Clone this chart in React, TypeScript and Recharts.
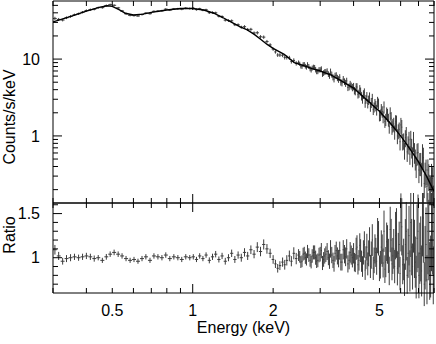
import { ComposedChart, Scatter, XAxis, YAxis, ErrorBar } from 'recharts'

// channel energies (keV)
const energy = [
  0.305, 0.315, 0.326, 0.337, 0.349, 0.361, 0.374, 0.387, 0.4, 0.414,
  0.428, 0.443, 0.459, 0.475, 0.491, 0.508, 0.526, 0.544, 0.563, 0.583,
  0.603, 0.624, 0.646, 0.668, 0.692, 0.716, 0.741, 0.767, 0.793, 0.821,
  0.85, 0.88, 0.91, 0.942, 0.975,
  1.005, 1.033, 1.062, 1.092, 1.122, 1.154, 1.186, 1.219, 1.253, 1.288,
  1.324, 1.361, 1.399, 1.438, 1.479, 1.52, 1.563, 1.606, 1.651, 1.697,
  1.745, 1.794, 1.844, 1.896, 1.949,
  2.0, 2.04, 2.08, 2.12, 2.17, 2.21, 2.25, 2.3, 2.34, 2.39,
  2.44, 2.49, 2.54, 2.59, 2.64, 2.69, 2.75, 2.8, 2.86, 2.91,
  2.97, 3.03, 3.09, 3.15, 3.22, 3.28, 3.35, 3.41, 3.48, 3.55,
  3.62, 3.7, 3.77, 3.85, 3.92,
  4.0, 4.06, 4.12, 4.19, 4.25, 4.32, 4.39, 4.45, 4.52, 4.59,
  4.66, 4.74, 4.81, 4.88, 4.96, 5.04, 5.12, 5.2, 5.28, 5.36,
  5.44, 5.53, 5.61, 5.7, 5.79, 5.88, 5.97, 6.06, 6.16, 6.25,
  6.35, 6.45, 6.55, 6.65, 6.76, 6.86, 6.97, 7.08, 7.19, 7.3,
  7.41, 7.53, 7.65, 7.77, 7.89,
]

const counts = [
  33.8, 32.8, 32.2, 34.5, 35.9, 37.7, 38.9, 40.8, 42.8, 43.9,
  44.6, 46.7, 46.7, 49.7, 51.1, 50.1, 46.4, 42.3, 38.9, 37.1,
  36.8, 36.4, 38.0, 39.6, 39.0, 41.8, 42.1, 42.5, 44.6, 43.5,
  44.9, 45.1, 44.6, 46.0, 45.5,
  45.9, 44.0, 45.2, 43.3, 43.9, 40.1, 40.4, 40.0, 36.1, 35.8,
  32.1, 31.7, 31.5, 28.0, 28.0, 26.0, 26.4, 24.3, 24.4, 21.9,
  22.0, 19.5, 19.3, 16.9, 15.3,
  13.5, 12.4, 11.3, 11.3, 11.2, 10.5, 10.5, 10.4, 9.3, 9.6,
  8.8, 9.0, 8.1, 8.5, 8.1, 8.5, 7.5, 7.65, 7.8, 6.9,
  7.26, 7.45, 6.6, 6.86, 6.4, 6.9, 5.8, 6.1, 5.7, 5.8,
  4.9, 5.1, 5.2, 4.37, 4.48,
  4.41, 3.79, 4.33, 3.57, 3.81, 3.02, 3.68, 3.02, 2.65, 3.23,
  2.71, 2.2, 2.63, 2.19, 2.64, 1.88, 2.08, 2.38, 1.64, 1.89,
  1.32, 1.7, 1.38, 1.13, 1.51, 1.16, 0.84, 1.3, 0.87, 0.95,
  0.62, 0.89, 0.91, 0.55, 0.62, 0.41, 0.61, 0.45, 0.33, 0.52,
  0.33, 0.22, 0.31, 0.21, 0.28,
]

const ratio = [
  1.09, 1.02, 0.96, 0.99, 1.0, 1.01, 1.0, 1.01, 1.02, 1.01,
  0.99, 1.0, 0.97, 1.01, 1.04, 1.06, 1.04, 1.02, 0.99, 0.97,
  0.98, 0.96, 0.99, 1.01, 0.97, 1.02, 1.01, 1.0, 1.03, 0.99,
  1.01, 1.0, 0.98, 1.01, 1.0,
  1.01, 0.98, 1.02, 0.99, 1.03, 0.97, 1.01, 1.04, 0.98, 1.02,
  0.96, 1.0, 1.05, 0.98, 1.03, 1.0, 1.06, 1.02, 1.09, 1.04,
  1.12, 1.07, 1.15, 1.1, 1.05,
  0.98, 0.93, 0.88, 0.91, 0.95, 0.92, 0.97, 1.02, 0.96, 1.05,
  0.99, 1.03, 0.95, 1.04, 1.0, 1.07, 0.97, 1.02, 1.06, 0.96,
  1.03, 1.08, 0.98, 1.04, 1.0, 1.1, 0.97, 1.05, 1.02, 1.08,
  0.95, 1.04, 1.1, 0.97, 1.03,
  1.05, 0.94, 1.12, 0.97, 1.08, 0.9, 1.15, 1.0, 0.93, 1.18,
  1.03, 0.88, 1.1, 0.96, 1.22, 0.92, 1.08, 1.3, 0.95, 1.15,
  0.85, 1.2, 1.02, 0.9, 1.28, 1.05, 0.82, 1.35, 0.98, 1.15,
  0.8, 1.25, 1.4, 0.9, 1.1, 0.78, 1.3, 1.05, 0.85, 1.45,
  1.0, 0.75, 1.2, 0.9, 1.35,
]

// fractional 1-sigma errors per channel
const relErr = [
  0.05, 0.045, 0.04, 0.04, 0.04, 0.035, 0.035, 0.035, 0.035, 0.035,
  0.035, 0.03, 0.03, 0.032, 0.03, 0.03, 0.03, 0.03, 0.03, 0.03,
  0.03, 0.03, 0.03, 0.03, 0.03, 0.03, 0.03, 0.03, 0.03, 0.03,
  0.03, 0.03, 0.03, 0.03, 0.03,
  0.03, 0.03, 0.03, 0.03, 0.03, 0.035, 0.035, 0.035, 0.035, 0.035,
  0.04, 0.04, 0.04, 0.04, 0.04, 0.045, 0.045, 0.045, 0.045, 0.045,
  0.05, 0.05, 0.05, 0.05, 0.05,
  0.05, 0.05, 0.055, 0.055, 0.055, 0.06, 0.06, 0.06, 0.06, 0.065,
  0.065, 0.065, 0.07, 0.07, 0.07, 0.07, 0.075, 0.075, 0.075, 0.08,
  0.08, 0.08, 0.085, 0.085, 0.085, 0.09, 0.09, 0.09, 0.095, 0.095,
  0.1, 0.1, 0.1, 0.105, 0.105,
  0.11, 0.11, 0.12, 0.12, 0.12, 0.13, 0.13, 0.13, 0.14, 0.14,
  0.15, 0.15, 0.15, 0.16, 0.16, 0.17, 0.17, 0.18, 0.18, 0.19,
  0.19, 0.2, 0.2, 0.21, 0.22, 0.22, 0.23, 0.24, 0.24, 0.25,
  0.26, 0.27, 0.28, 0.29, 0.3, 0.31, 0.32, 0.33, 0.34, 0.35,
  0.36, 0.37, 0.38, 0.39, 0.4,
]

// the hard band is binned finer: extra channels sitting between the ones above
const hardEnergy = [
  2.515, 2.565, 2.615, 2.665, 2.72, 2.775, 2.83, 2.885, 2.94, 3.0,
  3.06, 3.12, 3.185, 3.25, 3.315, 3.38, 3.445, 3.515, 3.585, 3.66,
  3.735, 3.81, 3.885, 3.96,
  4.03, 4.09, 4.155, 4.22, 4.285, 4.355, 4.42, 4.485, 4.555, 4.625,
  4.7, 4.775, 4.845, 4.92, 5.0, 5.08, 5.16, 5.24, 5.32, 5.4,
  5.485, 5.57, 5.655, 5.745, 5.835, 5.925, 6.015, 6.11, 6.205, 6.3,
  6.4, 6.5, 6.6, 6.705, 6.81, 6.915, 7.025, 7.135, 7.245, 7.355,
  7.47, 7.59, 7.71, 7.83, 7.95,
]
const hardCounts = [
  8.69, 8.02, 8.56, 7.84, 8.03, 7.22, 7.87, 7.28, 6.91, 7.28,
  6.41, 6.81, 6.96, 6.08, 6.3, 5.49, 6.16, 5.45, 5.01, 5.47,
  4.85, 4.28, 4.69, 4.28,
  3.9, 4.35, 3.48, 4.1, 3.3, 3.48, 2.67, 3.28, 2.94, 2.41,
  3.07, 2.37, 2.47, 2.78, 1.85, 2.22, 1.77, 1.55, 1.98, 1.63,
  1.97, 1.29, 1.43, 1.53, 1.0, 1.22, 1.39, 0.85, 0.65, 1.04,
  0.78, 0.58, 0.71, 0.87, 0.51, 0.6, 0.36, 0.45, 0.58, 0.24,
  0.36, 0.36, 0.21, 0.31, 0.16,
]
const hardRatio = [
  1.01, 0.96, 1.05, 0.98, 1.03, 0.95, 1.06, 1.0, 0.97, 1.04,
  0.94, 1.02, 1.07, 0.96, 1.03, 0.93, 1.08, 0.99, 0.95, 1.09,
  1.01, 0.93, 1.06, 1.0,
  0.95, 1.1, 0.92, 1.14, 0.96, 1.06, 0.86, 1.12, 1.05, 0.9,
  1.2, 0.97, 1.06, 1.25, 0.88, 1.12, 0.94, 0.87, 1.18, 1.02,
  1.32, 0.93, 1.1, 1.25, 0.88, 1.15, 1.4, 0.92, 0.75, 1.3,
  1.05, 0.85, 1.12, 1.5, 0.95, 1.22, 0.8, 1.1, 1.55, 0.7,
  1.15, 1.3, 0.85, 1.4, 0.8,
]
const hardRelErr = [
  0.065, 0.07, 0.07, 0.07, 0.075, 0.075, 0.075, 0.08, 0.08, 0.08,
  0.085, 0.085, 0.09, 0.09, 0.09, 0.095, 0.095, 0.1, 0.1, 0.1,
  0.105, 0.105, 0.11, 0.11,
  0.11, 0.115, 0.12, 0.12, 0.125, 0.13, 0.13, 0.135, 0.14, 0.145,
  0.15, 0.15, 0.155, 0.16, 0.165, 0.17, 0.175, 0.18, 0.185, 0.19,
  0.195, 0.2, 0.205, 0.215, 0.22, 0.225, 0.235, 0.24, 0.245, 0.255,
  0.265, 0.275, 0.285, 0.295, 0.305, 0.315, 0.325, 0.335, 0.345, 0.355,
  0.365, 0.375, 0.385, 0.395, 0.41,
]

const modelEnergy = [
  0.3, 0.35, 0.4, 0.45, 0.48, 0.5, 0.53, 0.56, 0.6, 0.65, 0.7, 0.8, 0.9, 1.0,
  1.1, 1.2, 1.3, 1.4, 1.5, 1.6, 1.7, 1.8, 1.9, 2.0, 2.2, 2.3, 2.4, 2.6, 2.8,
  3.0, 3.3, 3.6, 4.0, 4.5, 5.0, 5.5, 6.0, 6.5, 7.0, 7.5, 8.0,
]
const modelCounts = [
  30.5, 36, 42, 47.5, 49.5, 48.5, 44, 39.5, 37.5, 38.5, 40.5, 43.5, 45.5, 45.5,
  43.5, 39.5, 34.5, 30, 26.5, 24, 21, 18, 15.5, 13.8, 11.5, 10.2, 9.0, 8.2, 7.5,
  7.0, 6.2, 5.2, 4.2, 2.9, 2.1, 1.45, 1.0, 0.68, 0.46, 0.3, 0.19,
]

const xTicks = [0.3, 0.4, 0.5, 0.6, 0.7, 0.8, 0.9, 1, 2, 3, 4, 5, 6, 7, 8]
const xLabels = [0.5, 1, 2, 5]
const countTicks = [0.2, 0.3, 0.4, 0.5, 0.6, 0.7, 0.8, 0.9, 1, 2, 3, 4, 5, 6, 7, 8, 9, 10, 20, 30, 40, 50]
const countLabels = [1, 10]
const ratioTicks = [0.7, 0.8, 0.9, 1, 1.1, 1.2, 1.3, 1.4, 1.5, 1.6]
const ratioLabels = [1, 1.5]

const FONT = '"Liberation Sans", Arial, Helvetica, sans-serif'
const DATA_COLOR = '#3c3c3c'

const channels = [
  ...energy.map((e, i) => ({ e, c: counts[i], r: ratio[i], f: relErr[i] })),
  ...hardEnergy.map((e, i) => ({ e, c: hardCounts[i], r: hardRatio[i], f: hardRelErr[i] })),
].sort((a, b) => a.e - b.e)

// half-way points to the neighbouring channels give the bin widths
const rows = channels.map((ch, i) => {
  const e = ch.e
  const prev = i > 0 ? channels[i - 1].e : e - (channels[1].e - e)
  const next = i < channels.length - 1 ? channels[i + 1].e : Math.min(8, e + (e - prev))
  return {
    e,
    counts: ch.c,
    ratio: ch.r,
    xErr: [(e - prev) / 2, (next - e) / 2],
    cErr: ch.c * ch.f,
    rErr: ch.r * ch.f,
  }
})
const model = modelEnergy.map((e, i) => ({ e, counts: modelCounts[i] }))

type Side = 'bottom' | 'top' | 'left' | 'right'

// inward pointing ticks, long ones on the majors
const tickFn = (side: Side, majors: number[], labels: number[] = []) => (p: any) => {
  const { x, y, payload } = p
  const v = payload.value
  const len = majors.includes(v) ? 9 : 5
  let x2 = x
  let y2 = y
  if (side === 'bottom') y2 = y - len
  if (side === 'top') y2 = y + len
  if (side === 'left') x2 = x + len
  if (side === 'right') x2 = x - len
  const show = labels.includes(v)
  return (
    <g>
      <line x1={x} y1={y} x2={x2} y2={y2} stroke="#000" strokeWidth={1} />
      {show && side === 'bottom' && (
        <text x={x} y={y + 23} textAnchor="middle" fontSize={16} fontFamily={FONT} fill="#000">
          {v}
        </text>
      )}
      {show && side === 'left' && (
        <text x={x - 13} y={y + 5.7} textAnchor="end" fontSize={16} fontFamily={FONT} fill="#000">
          {v}
        </text>
      )}
    </g>
  )
}

const noMarker = () => <g />

const axisCommon = {
  type: 'number' as const,
  allowDataOverflow: true,
  tickSize: 0,
  tickMargin: 0,
  tickLine: false,
  interval: 0 as const,
  axisLine: { stroke: '#000', strokeWidth: 1 },
}

export default function App() {
  return (
    <div style={{ position: 'absolute', left: 0, top: 0, width: 436, height: 344, background: '#fff' }}>
      <div style={{ position: 'absolute', left: 0, top: 0 }}>
        <ComposedChart width={436} height={206} margin={{ top: 0, right: 1, bottom: 2, left: 52 }}>
          <XAxis {...axisCommon} xAxisId="b" dataKey="e" scale="log" domain={[0.3, 8]} ticks={xTicks}
            orientation="bottom" height={1} tick={tickFn('bottom', [1])} />
          <XAxis {...axisCommon} xAxisId="t" dataKey="e" scale="log" domain={[0.3, 8]} ticks={xTicks}
            orientation="top" height={1} tick={tickFn('top', [1])} />
          <YAxis {...axisCommon} yAxisId="l" dataKey="counts" scale="log" domain={[0.134, 57]} ticks={countTicks}
            orientation="left" width={1} tick={tickFn('left', [1, 10], countLabels)} />
          <YAxis {...axisCommon} yAxisId="r" dataKey="counts" scale="log" domain={[0.134, 57]} ticks={countTicks}
            orientation="right" width={1} tick={tickFn('right', [1, 10])} />
          <Scatter data={rows} xAxisId="b" yAxisId="l" dataKey="counts" shape={noMarker} isAnimationActive={false}>
            <ErrorBar dataKey="xErr" direction="x" width={0} stroke={DATA_COLOR} strokeWidth={1} />
            <ErrorBar dataKey="cErr" direction="y" width={0} stroke={DATA_COLOR} strokeWidth={1} />
          </Scatter>
          <Scatter data={model} xAxisId="b" yAxisId="l" dataKey="counts" shape={noMarker}
            line={{ stroke: '#000', strokeWidth: 1.4 }} isAnimationActive={false} />
        </ComposedChart>
      </div>
      <div style={{ position: 'absolute', left: 0, top: 193 }}>
        <ComposedChart width={436} height={151} margin={{ top: 9, right: 1, bottom: 50, left: 52 }}>
          <XAxis {...axisCommon} xAxisId="b" dataKey="e" scale="log" domain={[0.3, 8]} ticks={xTicks}
            orientation="bottom" height={1} tick={tickFn('bottom', [1], xLabels)} />
          <XAxis {...axisCommon} xAxisId="t" dataKey="e" scale="log" domain={[0.3, 8]} ticks={xTicks}
            orientation="top" height={1} tick={tickFn('top', [1])} />
          <YAxis {...axisCommon} yAxisId="l" dataKey="ratio" domain={[0.6, 1.62]} ticks={ratioTicks}
            orientation="left" width={1} tick={tickFn('left', [1, 1.5], ratioLabels)} />
          <YAxis {...axisCommon} yAxisId="r" dataKey="ratio" domain={[0.6, 1.62]} ticks={ratioTicks}
            orientation="right" width={1} tick={tickFn('right', [1, 1.5])} />
          <Scatter data={rows} xAxisId="b" yAxisId="l" dataKey="ratio" shape={noMarker} isAnimationActive={false}>
            <ErrorBar dataKey="xErr" direction="x" width={0} stroke={DATA_COLOR} strokeWidth={1} />
            <ErrorBar dataKey="rErr" direction="y" width={0} stroke={DATA_COLOR} strokeWidth={1} />
          </Scatter>
        </ComposedChart>
      </div>
      <svg width={436} height={344} style={{ position: 'absolute', left: 0, top: 0, pointerEvents: 'none' }}>
        <text transform="translate(14.5,117) rotate(-90)" textAnchor="middle" fontSize={16} fontFamily={FONT} fill="#000">
          Counts/s/keV
        </text>
        <text transform="translate(15,235) rotate(-90)" textAnchor="middle" fontSize={16} fontFamily={FONT} fill="#000">
          Ratio
        </text>
        <text x={243.5} y={333} textAnchor="middle" fontSize={16} fontFamily={FONT} fill="#000">
          Energy (keV)
        </text>
      </svg>
    </div>
  )
}
